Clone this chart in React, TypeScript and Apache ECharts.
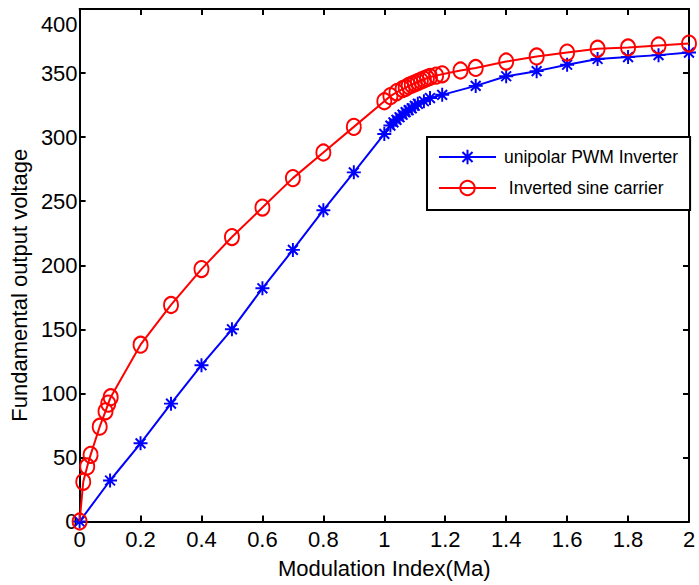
import React, { useEffect, useRef } from "react";
import * as echarts from "echarts";

const xTicks = [0, 0.2, 0.4, 0.6, 0.8, 1, 1.2, 1.4, 1.6, 1.8, 2];
const yTicks = [0, 50, 100, 150, 200, 250, 300, 350, 400];

const blueName = "unipolar PWM Inverter";
const blueX = [0, 0.1, 0.2, 0.3, 0.4, 0.5, 0.6, 0.7, 0.8, 0.9, 1.0, 1.02, 1.03, 1.04, 1.05, 1.06, 1.07, 1.08, 1.09, 1.1, 1.11, 1.13, 1.15, 1.19, 1.3, 1.4, 1.5, 1.6, 1.7, 1.8, 1.9, 2.0];
const blueY = [0, 32, 61, 92, 122, 150, 182, 212, 243, 272.5, 302.5, 309, 311.5, 313.5, 315.5, 317.5, 319.5, 321, 322.5, 324.5, 326, 328, 330.5, 333, 340, 347.5, 351.5, 356.5, 361, 362.5, 364, 366];

const redName = " Inverted sine carrier";
const redX = [0, 0.012, 0.025, 0.036, 0.066, 0.085, 0.094, 0.102, 0.2, 0.3, 0.4, 0.5, 0.6, 0.7, 0.8, 0.9, 1.0, 1.02, 1.04, 1.06, 1.07, 1.08, 1.09, 1.1, 1.11, 1.12, 1.13, 1.14, 1.15, 1.17, 1.19, 1.25, 1.3, 1.4, 1.5, 1.6, 1.7, 1.8, 1.9, 2.0];
const redY = [0, 31, 43, 52, 74, 86, 92, 97, 138, 169, 197, 222, 245, 268, 288, 308, 328, 332, 335, 337.5, 338.5, 340, 341, 342, 343, 344, 345, 346, 347, 348, 349, 352, 354, 359, 363, 366, 369, 370, 371.5, 373];

const FONT = "'Liberation Sans', Arial, sans-serif";
const STAR =
  "path://M43,0 L57,0 L57,100 L43,100 Z M0,43 L100,43 L100,57 L0,57 Z M20,10 L90,80 L80,90 L10,20 Z M80,10 L90,20 L20,90 L10,80 Z";

export default function App() {
  const ref = useRef<HTMLDivElement>(null);
  useEffect(() => {
    if (!ref.current) return;
    const chart = echarts.init(ref.current, undefined, { renderer: "svg" });
    const xMin = xTicks[0];
    const xMax = xTicks[xTicks.length - 1];
    const xInt = xTicks[1] - xTicks[0];
    const yMin = yTicks[0];
    const yMax = yTicks[yTicks.length - 1];
    const yInt = yTicks[1] - yTicks[0];
    const axisLine = { show: true, onZero: false, lineStyle: { color: "#000", width: 2 } };
    const tick = { show: true, inside: true, length: 6, lineStyle: { color: "#000", width: 2 } };
    chart.setOption({
      animation: false,
      backgroundColor: "#fff",
      grid: { left: 79, right: 10, top: 9, bottom: 63.5, containLabel: false },
      legend: {
        orient: "vertical",
        left: 427,
        top: 137,
        backgroundColor: "#fff",
        borderColor: "#000",
        borderWidth: 2,
        borderRadius: 0,
        padding: [11, 12, 13, 11],
        itemWidth: 57,
        itemHeight: 18,
        itemGap: 13,
        textStyle: { fontFamily: FONT, fontSize: 17.5, color: "#000", lineHeight: 18, padding: [0, 0, 0, 3] },
        data: [blueName, redName],
      },
      xAxis: [
        {
          type: "value",
          min: xMin,
          max: xMax,
          interval: xInt,
          position: "bottom",
          axisLine,
          axisTick: tick,
          splitLine: { show: false },
          axisLabel: { fontFamily: FONT, fontSize: 22, color: "#000", margin: 7 },
          name: "Modulation Index(Ma)",
          nameLocation: "middle",
          nameGap: 36,
          nameTextStyle: { fontFamily: FONT, fontSize: 22, color: "#000" },
        },
        {
          type: "value",
          min: xMin,
          max: xMax,
          interval: xInt,
          position: "top",
          axisLine,
          axisTick: tick,
          splitLine: { show: false },
          axisLabel: { show: false },
        },
      ],
      yAxis: [
        {
          type: "value",
          min: yMin,
          max: yMax,
          interval: yInt,
          position: "left",
          axisLine,
          axisTick: tick,
          splitLine: { show: false },
          axisLabel: {
            fontFamily: FONT,
            fontSize: 22,
            color: "#000",
            margin: 2,
            formatter: (v: number) => (v === yMax ? "{t|" + v + "}" : String(v)),
            rich: { t: { fontFamily: FONT, fontSize: 22, color: "#000", padding: [30, 0, 0, 0] } },
          },
          name: "Fundamental output voltage",
          nameLocation: "middle",
          nameGap: 46,
          nameRotate: 90,
          nameTextStyle: { fontFamily: FONT, fontSize: 22, color: "#000", padding: [0, 40, 0, 0] },
        },
        {
          type: "value",
          min: yMin,
          max: yMax,
          interval: yInt,
          position: "right",
          axisLine,
          axisTick: tick,
          splitLine: { show: false },
          axisLabel: { show: false },
        },
      ],
      series: [
        {
          name: blueName,
          type: "line",
          xAxisIndex: 0,
          yAxisIndex: 0,
          data: blueX.map((x, i) => [x, blueY[i]]),
          symbol: STAR,
          symbolSize: 14,
          showAllSymbol: true,
          clip: false,
          color: "#0000ff",
          lineStyle: { color: "#0000ff", width: 2 },
          itemStyle: { color: "#0000ff", borderWidth: 0 },
          z: 2,
        },
        {
          name: redName,
          type: "line",
          xAxisIndex: 0,
          yAxisIndex: 0,
          data: redX.map((x, i) => [x, redY[i]]),
          symbol: "circle",
          symbolSize: [14, 16],
          showAllSymbol: true,
          clip: false,
          color: "#ff0000",
          lineStyle: { color: "#ff0000", width: 2 },
          itemStyle: { color: "rgba(255,255,255,0)", borderColor: "#ff0000", borderWidth: 2 },
          z: 3,
        },
      ],
    });
    return () => chart.dispose();
  }, []);
  return <div ref={ref} style={{ position: "fixed", left: 0, top: 0, width: 699, height: 585 }} />;
}
